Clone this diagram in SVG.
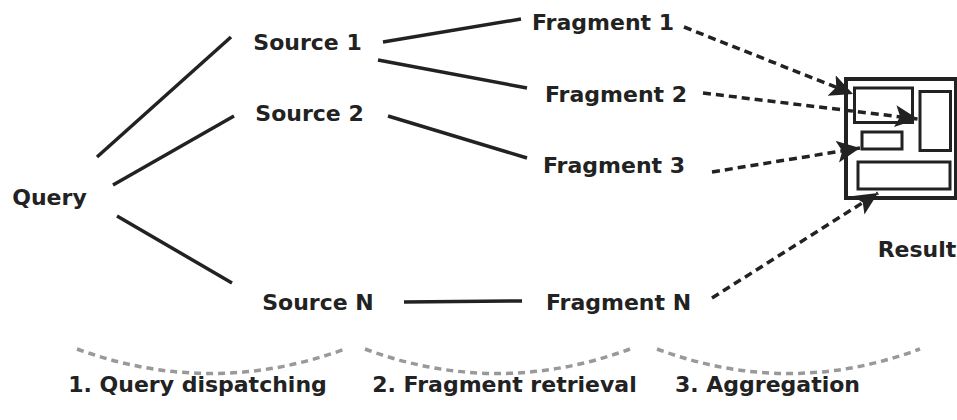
<svg xmlns="http://www.w3.org/2000/svg" width="957" height="420" viewBox="0 0 957 420">
<defs>
<style>
.lbl{font-family:"DejaVu Sans",sans-serif;font-weight:bold;font-size:22px;fill:#222;text-anchor:middle}
.step{font-family:"DejaVu Sans",sans-serif;font-weight:bold;font-size:22px;fill:#222;text-anchor:middle}
.solid{stroke:#222;stroke-width:3.5;fill:none}
.dash{stroke:#222;stroke-width:3.5;fill:none;stroke-dasharray:8 5}
.arc{stroke:#999;stroke-width:3.5;fill:none;stroke-dasharray:7 5}
.box{stroke:#222;fill:none}
</style>
<marker id="ah" markerUnits="userSpaceOnUse" markerWidth="26" markerHeight="24" refX="23" refY="11" orient="auto">
<path d="M0,0 L23,11 L0,22 L5,11 Z" fill="#222"/>
</marker>
</defs>
<g id="query"><text class="lbl" x="49.5" y="205">Query</text></g>
<g id="source1"><text class="lbl" x="307.5" y="50">Source 1</text></g>
<g id="source2"><text class="lbl" x="309.5" y="121">Source 2</text></g>
<g id="sourceN"><text class="lbl" x="318" y="310">Source N</text></g>
<g id="fragment1"><text class="lbl" x="603" y="30">Fragment 1</text></g>
<g id="fragment2"><text class="lbl" x="616" y="102">Fragment 2</text></g>
<g id="fragment3"><text class="lbl" x="614" y="173">Fragment 3</text></g>
<g id="fragmentN"><text class="lbl" x="618.5" y="310">Fragment N</text></g>
<g id="result">
<rect class="box" x="846" y="79" width="110" height="119" stroke-width="4"/>
<rect class="box" x="854.5" y="88" width="58" height="34.5" stroke-width="3"/>
<rect class="box" x="920" y="91.5" width="30.5" height="59" stroke-width="3"/>
<rect class="box" x="862" y="132" width="40" height="17" stroke-width="3"/>
<rect class="box" x="858" y="162" width="92" height="27" stroke-width="3"/>
<text class="lbl" x="917" y="257">Result</text>
</g>
<g id="connectors">
<line class="solid" x1="97" y1="157" x2="231" y2="37"/>
<line class="solid" x1="113" y1="185" x2="234" y2="116"/>
<line class="solid" x1="117" y1="216" x2="232" y2="283"/>
<line class="solid" x1="383" y1="42" x2="521" y2="19"/>
<line class="solid" x1="378" y1="60" x2="527" y2="88"/>
<line class="solid" x1="388" y1="116" x2="527" y2="158"/>
<line class="solid" x1="404" y1="302" x2="522" y2="301"/>
<line class="dash" x1="684" y1="27" x2="853" y2="94" marker-end="url(#ah)"/>
<line class="dash" x1="703" y1="93" x2="918" y2="119" marker-end="url(#ah)"/>
<line class="dash" x1="712" y1="172" x2="860" y2="148" marker-end="url(#ah)"/>
<line class="dash" x1="712" y1="298" x2="878" y2="193" marker-end="url(#ah)"/>
</g>
<g id="phases">
<path class="arc" d="M77,349 Q211,398 345,349"/>
<path class="arc" d="M365,349 Q497,398 630,349"/>
<path class="arc" d="M657,349 Q789,398 920,349"/>
<text class="step" x="197.5" y="392">1. Query dispatching</text>
<text class="step" x="504.5" y="392">2. Fragment retrieval</text>
<text class="step" x="767.5" y="392">3. Aggregation</text>
</g>
</svg>
